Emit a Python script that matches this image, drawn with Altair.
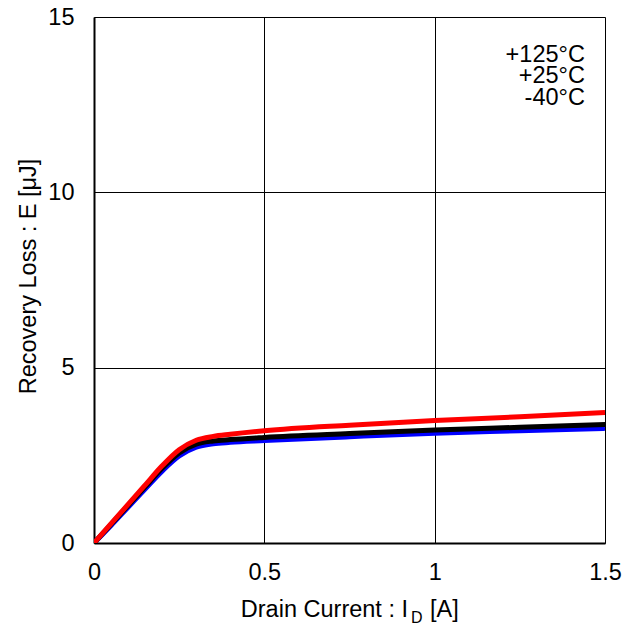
import altair as alt
import pandas as pd

current = [0, 0.05, 0.1, 0.15, 0.2, 0.25, 0.3, 0.35, 0.4, 0.5, 0.75, 1.0, 1.25, 1.5]
e_125 = [0, 0.55, 1.1, 1.65, 2.2, 2.66, 2.93, 3.04, 3.1, 3.2, 3.36, 3.49, 3.6, 3.72]
e_25 = [0, 0.53, 1.07, 1.6, 2.13, 2.57, 2.82, 2.91, 2.95, 3.01, 3.12, 3.22, 3.3, 3.38]
e_m40 = [0, 0.5, 1.02, 1.54, 2.05, 2.48, 2.73, 2.83, 2.87, 2.92, 3.03, 3.13, 3.2, 3.27]

series_names = ["-40°C", "+25°C", "+125°C"]
series_colors = ["#0000FF", "#000000", "#FF0000"]
series_values = [e_m40, e_25, e_125]

legend_labels = ["+125°C", "+25°C", "-40°C"]
legend_x = [1.441, 1.441, 1.441]
legend_y = [13.72, 13.12, 12.49]

rows = []
for order, (name, vals) in enumerate(zip(series_names, series_values)):
    for x, y in zip(current, vals):
        rows.append({"I": x, "E": y, "T": name, "o": order})
df = pd.DataFrame(rows)

FONT = "Liberation Sans"
FS = 23.5

xscale = alt.Scale(domain=[0, 1.5], nice=False)
yscale = alt.Scale(domain=[0, 15], nice=False)

lines = alt.Chart(df).mark_line(strokeWidth=5, interpolate="monotone", clip=True).encode(
    x=alt.X("I:Q", scale=xscale,
            axis=alt.Axis(values=[0, 0.5, 1, 1.5], format="~g", title=None, grid=True,
                          gridColor="#000000", gridOpacity=1, gridWidth=1, ticks=False,
                          domainColor="#000000", domainWidth=2, labelFont=FONT, labelFontSize=FS,
                          labelColor="#000000", labelPadding=17, labelFlush=False)),
    y=alt.Y("E:Q", scale=yscale,
            axis=alt.Axis(values=[0, 5, 10, 15], title="Recovery Loss : E [μJ]", grid=True,
                          gridColor="#000000", gridOpacity=1, gridWidth=1, ticks=False,
                          domainColor="#000000", domainWidth=2, labelFont=FONT, labelFontSize=FS,
                          labelColor="#000000", labelPadding=20, titleFont=FONT, titleFontSize=FS,
                          titleFontWeight="normal", titleColor="#000000", titleX=-59, titleY=259,
                          titleAngle=270, titleAlign="center", titleBaseline="alphabetic")),
    color=alt.Color("T:N", scale=alt.Scale(domain=series_names, range=series_colors), legend=None),
    order=alt.Order("o:Q"),
)

leg_df = pd.DataFrame({"label": legend_labels, "x": legend_x, "y": legend_y})
legend = alt.Chart(leg_df).mark_text(align="right", baseline="alphabetic", font=FONT, fontSize=FS,
                                     color="#000000").encode(
    x=alt.X("x:Q", scale=xscale), y=alt.Y("y:Q", scale=yscale), text="label:N")

title_df = pd.DataFrame({"t": ["Drain Current : I"], "d": ["D"], "a": ["[A]"]})
t1 = alt.Chart(title_df).mark_text(align="right", baseline="alphabetic", font=FONT, fontSize=FS,
                                   color="#000000").encode(
    x=alt.value(314), y=alt.value(600), text="t:N")
t2 = alt.Chart(title_df).mark_text(align="left", baseline="alphabetic", font=FONT, fontSize=16,
                                   color="#000000").encode(
    x=alt.value(317), y=alt.value(606), text="d:N")
t3 = alt.Chart(title_df).mark_text(align="left", baseline="alphabetic", font=FONT, fontSize=FS,
                                   color="#000000").encode(
    x=alt.value(336), y=alt.value(600), text="a:N")

chart = alt.layer(lines, legend, t1, t2, t3).properties(
    width=511, height=526,
    autosize=alt.AutoSizeParams(type="none"),
    padding={"left": 86, "top": 9, "right": 24, "bottom": 83},
).configure_view(stroke="#000000", strokeWidth=2).configure(background="#ffffff")

chart.save("out.html", embed_options={"renderer": "svg", "actions": False})
